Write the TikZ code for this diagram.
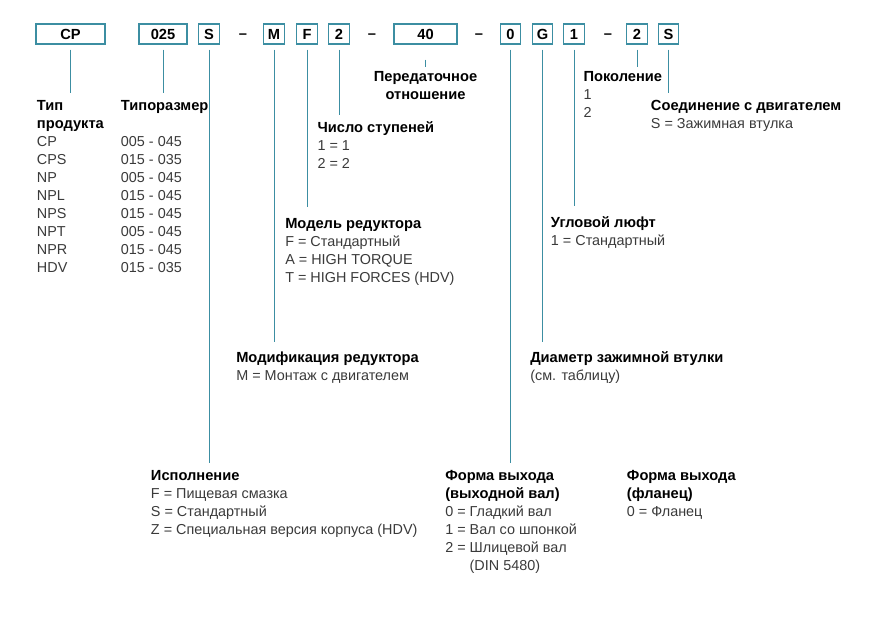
\documentclass[tikz,border=0pt]{standalone}
\usepackage{fontspec}
\setmainfont{Liberation Sans}
\usetikzlibrary{positioning}
\definecolor{leadblue}{HTML}{3C8EA2}
\definecolor{inkgray}{HTML}{3A3A3A}
\newcommand{\legendhead}[1]{\textcolor{black}{\fontsize{11}{13.5}\selectfont\bfseries #1}}
\newcommand{\legendlines}[2][l]{\begin{tabular}[t]{@{}#1@{}}#2\end{tabular}}

\begin{document}
\begin{tikzpicture}[
  x=0.75pt, y=-0.75pt,
  % Code boxes
  codebox/.style={
    draw=leadblue,
    line width=0.8pt,
    minimum width=15.4pt,
    minimum height=15pt,
    inner sep=0pt,
    font=\bfseries\fontsize{11}{13}\selectfont,
  },
  sepdash/.style={
    font=\bfseries\fontsize{11}{13}\selectfont,
  },
  % Leader lines
  lead/.style={
    draw=leadblue,
    line width=0.7pt,
    shorten <=3.75pt,
  },
  % Legend blocks (anchor = baseline of the first line)
  legend/.style={
    anchor=base west,
    inner sep=0pt,
    text=inkgray,
    font=\fontsize{10.8}{13.5}\selectfont,
  },
]
  \useasboundingbox (0,0) rectangle (884,640);

  % Code boxes along the top row
  \node[codebox, minimum width=51.75pt] (cp) at (70.5,34) {CP};
  \node[codebox, minimum width=36pt] (size) at (163,34) {025};
  \node[codebox, minimum width=47.25pt] (ratio) at (425.5,34) {40};
  \foreach \name/\xpos/\txt in {exec/209/S, mod/274/M, model/307/F, stages/339/2,
      shaft/510.5/0, clamp/542.5/G, backlash/574/1, gen/637/2, conn/668.5/S} {
    \node[codebox] (\name) at (\xpos,34) {\txt};
  }

  % Dashes between groups
  \foreach \xpos [count=\i] in {243,372,479,608} {
    \node[sepdash] (dash-\i) at (\xpos,36) {–};
  }

  % Lower ends of the leader lines
  \coordinate (cp-end) at (cp |- 0,93);
  \coordinate (size-end) at (size |- 0,93);
  \coordinate (exec-end) at (exec |- 0,462.7);
  \coordinate (mod-end) at (mod |- 0,342);
  \coordinate (model-end) at (model |- 0,207);
  \coordinate (stages-end) at (stages |- 0,115);
  \coordinate (ratio-end) at (ratio |- 0,66.5);
  \coordinate (shaft-end) at (shaft |- 0,462.7);
  \coordinate (clamp-end) at (clamp |- 0,342);
  \coordinate (backlash-end) at (backlash |- 0,206);
  \coordinate (gen-end) at (gen |- 0,66.7);
  \coordinate (conn-end) at (conn |- 0,92.7);

  \foreach \name in {cp,size,exec,mod,model,stages,shaft,clamp,backlash,gen,conn} {
    \draw[lead] (\name) -- (\name-end);
  }
  \draw[lead, shorten <=11.25pt] (ratio) -- (ratio-end);

  % Legend texts
  \node[legend] (type-txt) at (36.7,110.7)
    {\legendlines{\legendhead{Тип}\\ \legendhead{продукта}\\ CP\\ CPS\\ NP\\ NPL\\ NPS\\ NPT\\ NPR\\ HDV}};
  \node[legend] (size-txt) at (120.7,110.7)
    {\legendlines{\legendhead{Типоразмер}\\ \\ 005 - 045\\ 015 - 035\\ 005 - 045\\ 015 - 045\\
     015 - 045\\ 005 - 045\\ 015 - 045\\ 015 - 035}};
  \node[legend, anchor=base] (ratio-txt) at (425.5,81.7)
    {\legendlines[c]{\legendhead{Передаточное}\\ \legendhead{отношение}}};
  \node[legend] (stages-txt) at (317.3,132.7)
    {\legendlines{\legendhead{Число ступеней}\\ 1 = 1\\ 2 = 2}};
  \node[legend] (model-txt) at (285,228.3)
    {\legendlines{\legendhead{Модель редуктора}\\ F = Стандартный\\ A = HIGH TORQUE\\ T = HIGH FORCES (HDV)}};
  \node[legend] (mod-txt) at (236,362.7)
    {\legendlines{\legendhead{Модификация редуктора}\\ M = Монтаж с двигателем}};
  \node[legend] (exec-txt) at (150.7,480)
    {\legendlines{\legendhead{Исполнение}\\ F = Пищевая смазка\\ S = Стандартный\\ Z = Специальная версия корпуса (HDV)}};
  \node[legend] (gen-txt) at (583.3,81.7)
    {\legendlines{\legendhead{Поколение}\\ 1\\ 2}};
  \node[legend] (conn-txt) at (650.7,110.7)
    {\legendlines{\legendhead{Соединение с двигателем}\\ S = Зажимная втулка}};
  \node[legend] (backlash-txt) at (550.7,227.7)
    {\legendlines{\legendhead{Угловой люфт}\\ 1 = Стандартный}};
  \node[legend] (clamp-txt) at (530,362.7)
    {\legendlines{\legendhead{Диаметр зажимной втулки}\\ (см. таблицу)}};
  \node[legend] (shaft-txt) at (445,480)
    {\legendlines{\legendhead{Форма выхода}\\ \legendhead{(выходной вал)}\\ 0 = Гладкий вал\\ 1 = Вал со шпонкой\\
     2 = Шлицевой вал\\ \phantom{2 = }(DIN 5480)}};
  \node[legend] (flange-txt) at (626.7,480)
    {\legendlines{\legendhead{Форма выхода}\\ \legendhead{(фланец)}\\ 0 = Фланец}};

\end{tikzpicture}
\end{document}
